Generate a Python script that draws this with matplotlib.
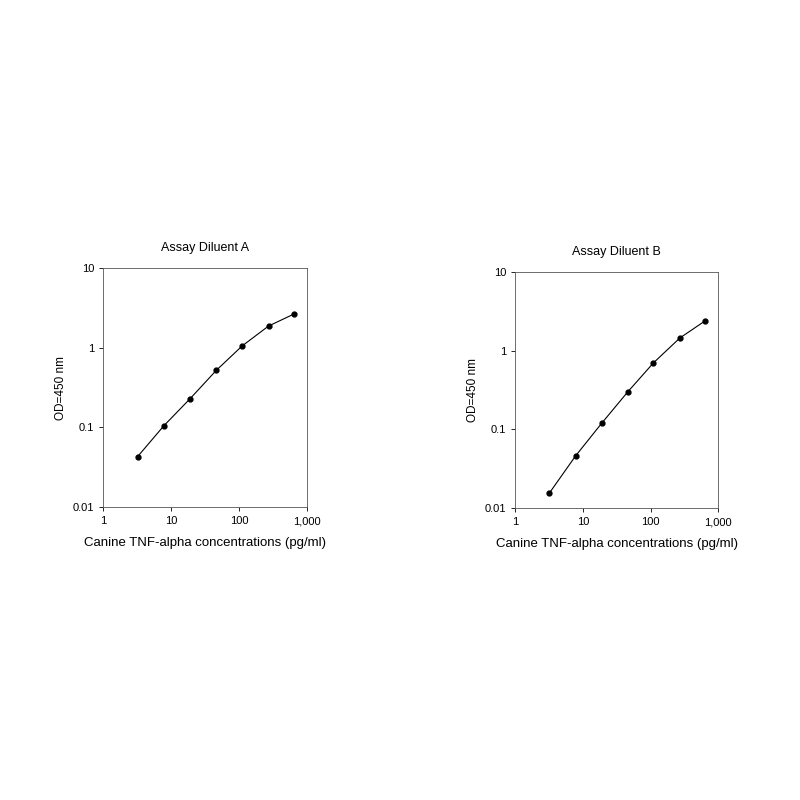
import matplotlib
matplotlib.use("Agg")
import matplotlib.pyplot as plt
from matplotlib.ticker import FuncFormatter

conc = [3.2, 7.8, 19, 46, 110, 270, 640]
od_a = [0.043, 0.105, 0.23, 0.52, 1.05, 1.87, 2.65]
od_b = [0.0155, 0.046, 0.12, 0.30, 0.70, 1.45, 2.4]
titles = ["Assay Diluent A", "Assay Diluent B"]
xlabel = "Canine TNF-alpha concentrations (pg/ml)"
ylabel = "OD=450 nm"

plt.rcParams['font.family'] = ['Liberation Sans', 'DejaVu Sans']
fig = plt.figure(figsize=(8, 8), dpi=100)
axes = [fig.add_axes([0.129, 0.366, 0.255, 0.299]),
        fig.add_axes([0.644, 0.365, 0.254, 0.295])]
xfmt = FuncFormatter(lambda v, p: f"{v:,.0f}")
yfmt = FuncFormatter(lambda v, p: f"{v:g}")
for ax, od, t in zip(axes, [od_a, od_b], titles):
    ax.plot(conc, od, color='black', lw=0.8, marker='o', ms=3.5)
    ax.set_xscale('log'); ax.set_yscale('log')
    ax.set_xlim(1, 1000); ax.set_ylim(0.01, 10)
    ax.xaxis.set_major_formatter(xfmt); ax.yaxis.set_major_formatter(yfmt)
    ax.minorticks_off()
    ax.tick_params(labelsize=8, length=3, width=0.6)
    for s in ax.spines.values():
        s.set_linewidth(0.6); s.set_color('#555555')
    ax.set_title(t, fontsize=9, pad=12)
    ax.set_xlabel(xlabel, fontsize=9.5, labelpad=8)
    ax.set_ylabel(ylabel, fontsize=8.5)
fig.savefig("out.png", dpi=100)
